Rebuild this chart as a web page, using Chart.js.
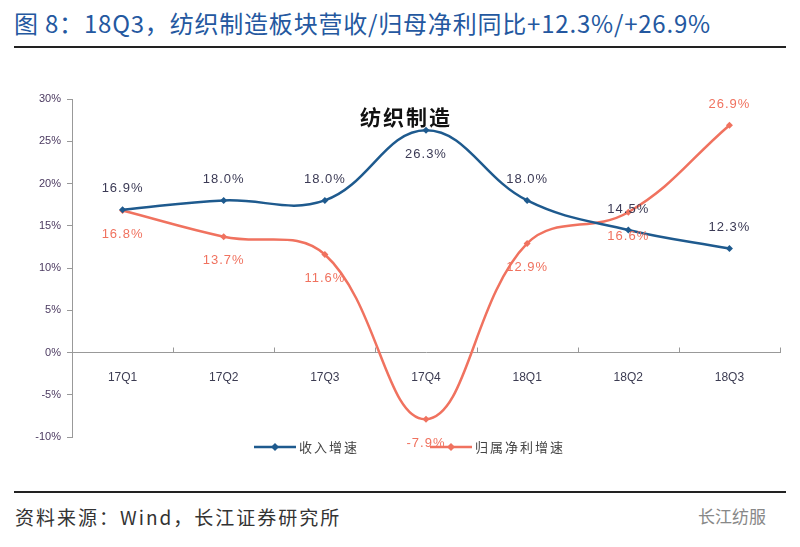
<!DOCTYPE html>
<html>
<head>
<meta charset="utf-8">
<script src="https://cdn.jsdelivr.net/npm/chart.js@4"></script>
<style>
  body { margin: 0; background: #fff; width: 800px; height: 547px; position: relative; overflow: hidden; font-family: "Noto Sans CJK SC", sans-serif; }
  #title { position: absolute; left: 14px; top: 5px; font-size: 24px; letter-spacing: 0.8px; color: #2458a0; white-space: nowrap; }
  .rule { position: absolute; left: 14px; width: 772px; height: 2px; background: #222; }
  #source { position: absolute; left: 15px; top: 503px; font-size: 19px; letter-spacing: 2px; color: #333; }
  #brand { position: absolute; left: 698px; top: 503px; font-size: 17px; color: #888; }
  #wrap { position: absolute; left: 0; top: 0; width: 800px; height: 547px; }
</style>
</head>
<body>
<div id="title">图 8：18Q3，纺织制造板块营收/归母净利同比+12.3%/+26.9%</div>
<div class="rule" style="top:46px"></div>
<div class="rule" style="top:491px"></div>
<div id="source">资料来源：Wind，长江证券研究所</div>
<div id="brand">长江纺服</div>
<div id="wrap"><canvas id="chart"></canvas></div>
<script>
const quarters = ['17Q1', '17Q2', '17Q3', '17Q4', '18Q1', '18Q2', '18Q3'];
const revenueGrowth = [16.9, 18.0, 18.0, 26.3, 18.0, 14.5, 12.3];
const profitGrowth = [16.8, 13.7, 11.6, -7.9, 12.9, 16.6, 26.9];
const seriesNames = ['收入增速', '归属净利增速'];
const chartTitle = '纺织制造';

const BLUE = '#1e5a8e';
const RED = '#f0725f';

// value labels, blue above the points, red below (the peak of each goes the other way)
const valueLabels = {
  id: 'valueLabels',
  afterDatasetsDraw(chart) {
    const ctx = chart.ctx;
    ctx.save();
    ctx.font = '13px "Liberation Sans", Arial, sans-serif';
    ctx.letterSpacing = '1px';
    ctx.textAlign = 'center';
    ctx.textBaseline = 'middle';
    chart.data.datasets.forEach((ds, di) => {
      const meta = chart.getDatasetMeta(di);
      const max = Math.max(...ds.data);
      meta.data.forEach((pt, i) => {
        const v = ds.data[i];
        let up = di === 0;
        if (v === max) up = !up;
        ctx.fillStyle = di === 0 ? '#3b3a55' : RED;
        ctx.fillText(v.toFixed(1) + '%', pt.x, pt.y + (up ? -21 : 24));
      });
    });
    ctx.restore();
  }
};

// title inside the plot, x axis ticks and legend
const decorations = {
  id: 'decorations',
  afterDraw(chart) {
    const ctx = chart.ctx;
    const area = chart.chartArea;
    const y0 = chart.scales.y.getPixelForValue(0);
    ctx.save();
    ctx.strokeStyle = '#999';
    ctx.lineWidth = 1;
    const step = (area.right - area.left) / quarters.length;
    for (let i = 1; i <= quarters.length; i++) {
      const px = Math.round(area.left + i * step) + 0.5;
      ctx.beginPath();
      ctx.moveTo(px, y0 - 5);
      ctx.lineTo(px, y0);
      ctx.stroke();
    }
    ctx.fillStyle = '#111';
    ctx.font = 'bold 21px "Noto Sans CJK SC", sans-serif';
    ctx.letterSpacing = '2px';
    ctx.textAlign = 'center';
    ctx.textBaseline = 'middle';
    ctx.fillText(chartTitle, 406, 117);

    const items = [
      { x: 254, color: BLUE, text: seriesNames[0] },
      { x: 430, color: RED, text: seriesNames[1] }
    ];
    const ly = 447;
    ctx.font = '13px "Noto Sans CJK SC", sans-serif';
    ctx.textAlign = 'left';
    ctx.letterSpacing = '2px';
    items.forEach(it => {
      ctx.strokeStyle = it.color;
      ctx.lineWidth = 2.5;
      ctx.beginPath();
      ctx.moveTo(it.x, ly);
      ctx.lineTo(it.x + 42, ly);
      ctx.stroke();
      ctx.fillStyle = it.color;
      ctx.beginPath();
      ctx.moveTo(it.x + 21, ly - 4);
      ctx.lineTo(it.x + 25, ly);
      ctx.lineTo(it.x + 21, ly + 4);
      ctx.lineTo(it.x + 17, ly);
      ctx.closePath();
      ctx.fill();
      ctx.fillStyle = '#444';
      ctx.fillText(it.text, it.x + 45, ly);
    });
    ctx.restore();
  }
};

new Chart(document.getElementById('chart'), {
  type: 'line',
  data: {
    labels: quarters,
    datasets: [
      {
        label: seriesNames[0],
        data: revenueGrowth,
        borderColor: BLUE,
        backgroundColor: BLUE,
        borderWidth: 2.5,
        tension: 0.4,
        pointStyle: 'rectRot',
        pointRadius: 3.5,
        pointBorderWidth: 0
      },
      {
        label: seriesNames[1],
        data: profitGrowth,
        borderColor: RED,
        backgroundColor: RED,
        borderWidth: 2.5,
        tension: 0.4,
        pointStyle: 'rectRot',
        pointRadius: 3.5,
        pointBorderWidth: 0
      }
    ]
  },
  options: {
    responsive: true,
    maintainAspectRatio: false,
    animation: false,
    layout: { padding: { left: 0, right: 20, top: 99, bottom: 110 } },
    plugins: {
      legend: { display: false },
      tooltip: { enabled: false }
    },
    scales: {
      x: {
        type: 'category',
        position: { y: 0 },
        offset: true,
        grid: { display: false },
        border: { display: true, color: '#999', width: 1 },
        ticks: {
          padding: 10,
          color: '#3c3c52',
          font: { family: '"Liberation Sans", Arial, sans-serif', size: 12 }
        }
      },
      y: {
        min: -10,
        max: 30,
        afterFit: s => { s.width = 72; },
        grid: { drawOnChartArea: false, tickLength: 5, color: '#999' },
        border: { display: true, color: '#999', width: 1 },
        ticks: {
          stepSize: 5,
          padding: 6,
          color: '#4b3a60',
          font: { family: '"Liberation Sans", Arial, sans-serif', size: 11 },
          callback: v => v + '%'
        }
      }
    }
  },
  plugins: [valueLabels, decorations]
});
</script>
</body>
</html>
